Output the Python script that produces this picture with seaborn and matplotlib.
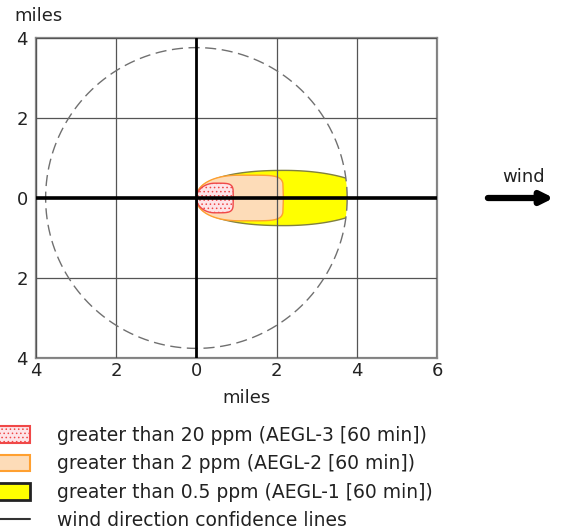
import numpy as np
import matplotlib
matplotlib.use("Agg")
import matplotlib.pyplot as plt
import seaborn as sns
import pandas as pd
from matplotlib.patches import Polygon, Circle, Patch
from matplotlib.lines import Line2D

# threat zones: downwind length and crosswind half-width (miles)
zone_labels = ["greater than 20 ppm (AEGL-3 [60 min])",
               "greater than 2 ppm (AEGL-2 [60 min])",
               "greater than 0.5 ppm (AEGL-1 [60 min])"]
zone_length = [0.92, 2.17, 4.4]
zone_halfwidth = [0.37, 0.57, 0.69]
zone_fill = ["#FDE4E8", "#FDDCB8", "#FFFF00"]
zone_edge = ["#F04848", "#FFA030", "#808040"]
confidence_radius = 3.76
x_ticks = [-4, -2, 0, 2, 4, 6]
y_ticks = [-4, -2, 0, 2, 4]

sns.set_theme(style="white", rc={"axes.axisbelow": False, "hatch.linewidth": 0.6})
plt.rcParams["font.family"] = ["DejaVu Sans"]
text_color = "#222222"
fs = 13


def zone_outline(length, half_width, p_front, p_back, n=160):
    """Footprint outline: rounded nose at the source, squarer downwind end"""
    a = length / 2
    t = np.linspace(-1, 1, n)
    p = np.where(t < 0, p_front, p_back)
    w = half_width * (1 - np.abs(t) ** p) ** (1 / p)
    x = a + a * t
    return np.column_stack([np.r_[x, x[::-1]], np.r_[w, -w[::-1]]])


fig = plt.figure(figsize=(5.68, 5.29), dpi=100)
ax = fig.add_axes([36 / 568, 1 - 358 / 529, 401 / 568, 320 / 529])

# zones, largest first
shapes = [(2.0, 5.0), (2.2, 6.0), (2.3, 2.0)]
clip = Circle((0, 0), confidence_radius, transform=ax.transData)
for i in [2, 1, 0]:
    pts = zone_outline(zone_length[i], zone_halfwidth[i], *shapes[i])
    poly = Polygon(pts, closed=True, facecolor=zone_fill[i], edgecolor=zone_edge[i],
                   lw=1.0, zorder=0.8, hatch="...." if i == 0 else None)
    ax.add_patch(poly)
    if i == 2:
        poly.set_clip_path(clip)

# dashed confidence circle
theta = np.linspace(0, 2 * np.pi, 361)
circ = pd.DataFrame({"x": confidence_radius * np.cos(theta),
                     "y": confidence_radius * np.sin(theta)})
sns.lineplot(data=circ, x="x", y="y", sort=False, estimator=None, ax=ax,
             color="#707070", lw=1.0, zorder=3)
ax.lines[-1].set_dashes((8, 4))

# source lines
ax.axhline(0, color="black", lw=2.6, zorder=4)
ax.axvline(0, color="black", lw=2.0, zorder=4)

ax.set_xlim(-4, 6)
ax.set_ylim(-4, 4)
ax.set_xticks(x_ticks)
ax.set_yticks(y_ticks)
ax.set_xticklabels([str(abs(v)) for v in x_ticks])
ax.set_yticklabels([str(abs(v)) for v in y_ticks])
ax.tick_params(length=0, labelsize=fs, labelcolor=text_color, pad=3)
ax.tick_params(axis="y", pad=6)
ax.grid(True, color="#555555", lw=0.9, zorder=1.5)
for s in ax.spines.values():
    s.set_color("#888888")
    s.set_linewidth(1.6)
ax.set_xlabel("")
ax.set_ylabel("")

fig.text(38 / 568, 1 - 16 / 529, "miles", ha="center", va="center", fontsize=fs, color=text_color)
fig.text(246 / 568, 1 - 398 / 529, "miles", ha="center", va="center", fontsize=fs, color=text_color)

# wind arrow
ax.annotate("", xy=(8.98, 0), xytext=(7.2, 0), annotation_clip=False,
            arrowprops=dict(arrowstyle="-|>", lw=4.5, color="black", mutation_scale=18))
ax.text(8.15, 0.52, "wind", ha="center", va="center", fontsize=fs, color=text_color,
        clip_on=False)

# legend
handles = [Patch(facecolor=zone_fill[0], edgecolor=zone_edge[0], hatch="....", lw=1.5),
           Patch(facecolor=zone_fill[1], edgecolor=zone_edge[1], lw=1.5),
           Patch(facecolor=zone_fill[2], edgecolor="#222222", lw=2.0),
           Line2D([], [], color="#333333", lw=1.5)]
labels = zone_labels + ["wind direction confidence lines"]
fig.legend(handles, labels, loc="upper left", bbox_to_anchor=(-0.012, 1 - 426 / 529),
           frameon=False, fontsize=13.5, handlelength=1.95, handleheight=1.0,
           handletextpad=1.45, labelspacing=0.5, borderpad=0, borderaxespad=0,
           labelcolor=text_color)

fig.savefig("out.png", dpi=100)
